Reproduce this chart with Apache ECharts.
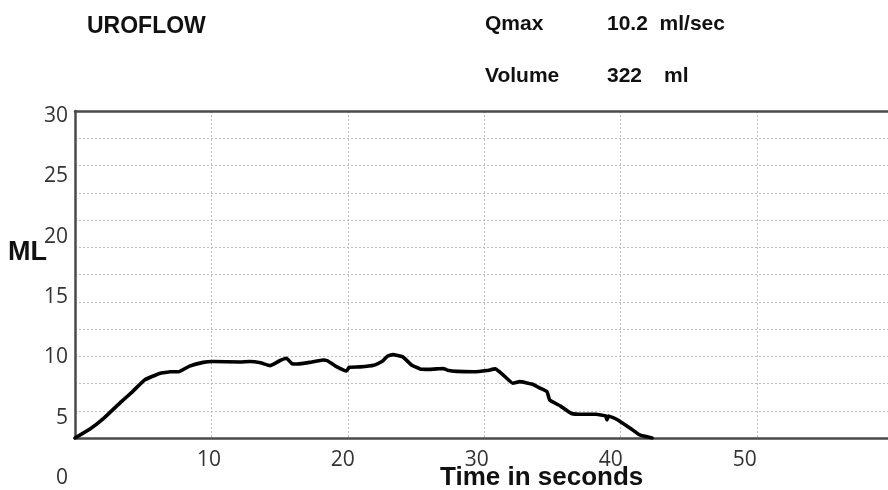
<!DOCTYPE html>
<html>
<head>
<meta charset="utf-8">
<script src="https://cdn.jsdelivr.net/npm/echarts@6/dist/echarts.min.js"></script>
<style>
  html, body { margin: 0; padding: 0; background: #fff; }
  #chart { width: 888px; height: 490px; }
</style>
</head>
<body>
<div id="chart"></div>
<script>
// Flow curve: time (s) and flow rate (ml/s)
const timeSec = [0, 1.1, 2.1, 3.4, 4.2, 5.1, 6.2, 7.0, 7.6, 8.4, 9.4, 10.1, 12.1, 12.8, 13.6, 14.3,
  15.0, 15.5, 15.9, 16.3, 17.2, 18.2, 18.5, 19.1, 19.9, 20.1, 20.9, 21.9, 22.5, 22.9, 23.3, 24.0,
  24.7, 25.3, 26.0, 27.0, 27.3, 28.0, 29.2, 30.2, 30.8, 31.4, 32.1, 32.6, 33.5, 34.1, 34.6, 34.8,
  35.6, 36.4, 37.3, 38.2, 38.9, 39.0, 39.1, 39.7, 40.7, 41.4, 42.3];
const flowRate = [0, 1.1, 2.4, 4.45, 5.65, 7.1, 7.9, 8.1, 8.1, 8.8, 9.25, 9.35, 9.3, 9.35, 9.2, 8.85,
  9.45, 9.75, 9.1, 9.05, 9.25, 9.55, 9.45, 8.8, 8.2, 8.65, 8.7, 8.9, 9.35, 10.0, 10.2, 9.95,
  8.9, 8.45, 8.4, 8.5, 8.3, 8.15, 8.1, 8.25, 8.45, 7.7, 6.7, 6.9, 6.6, 6.1, 5.67, 4.65,
  3.9, 3.0, 2.9, 2.9, 2.7, 2.2, 2.7, 2.3, 1.2, 0.37, 0];

// Axis tick labels
const xTickLabels = ['10', '20', '30', '40', '50'];
const yTickLabels = ['0', '5', '10', '15', '20', '25', '30'];

// Header summary
const titleText = 'UROFLOW';
const qmaxLabel = 'Qmax';
const qmaxValue = '10.2  ml/sec';
const volumeLabel = 'Volume';
const volumeValue = '322';
const volumeUnit = 'ml';
const yName = 'ML';
const xName = 'Time in seconds';

const chart = echarts.init(document.getElementById('chart'), null, { renderer: 'canvas' });

const labelFont = { fontFamily: 'Open Sans', fontSize: 21, color: '#333' };
const boldFont = 'Liberation Sans';
const axisLineStyle = { color: '#4a4a4a', width: 2.5 };
const gridLineStyle = { color: '#bdbdbd', width: 1, type: [2, 2] };

const option = {
  backgroundColor: '#fff',
  animation: false,
  grid: [
    { left: 75, right: 0, top: 111, bottom: 52 },
    { left: 75, width: 10, top: 116, bottom: 12 }
  ],
  xAxis: [
    { // data axis with vertical grid lines
      type: 'value', gridIndex: 0, position: 'bottom', min: 0, max: 59.6, interval: 10,
      axisLine: { show: true, lineStyle: axisLineStyle },
      axisTick: { show: false }, axisLabel: { show: false },
      splitLine: { show: true, lineStyle: gridLineStyle }
    },
    { // top border
      type: 'value', gridIndex: 0, position: 'top', min: 0, max: 59.6,
      axisLine: { show: true, lineStyle: axisLineStyle },
      axisTick: { show: false }, axisLabel: { show: false }, splitLine: { show: false }
    },
    { // time tick labels
      type: 'value', gridIndex: 0, position: 'bottom', min: 0, max: 60.7, interval: 10,
      axisLine: { show: false }, axisTick: { show: false }, splitLine: { show: false },
      axisLabel: Object.assign({
        margin: 12, showMinLabel: false, showMaxLabel: false,
        formatter: v => xTickLabels.includes(String(v)) ? String(v) : ''
      }, labelFont)
    },
    { type: 'value', gridIndex: 1, show: false }
  ],
  yAxis: [
    { // data axis with horizontal grid lines
      type: 'value', gridIndex: 0, min: 0, max: 40, interval: 10 / 3,
      axisLine: { show: true, lineStyle: axisLineStyle },
      axisTick: { show: false }, axisLabel: { show: false },
      splitLine: { show: true, lineStyle: gridLineStyle }
    },
    { // flow tick labels
      type: 'value', gridIndex: 1, min: 0, max: 30, interval: 5,
      axisLine: { show: false }, axisTick: { show: false }, splitLine: { show: false },
      axisLabel: Object.assign({
        margin: 7,
        formatter: v => yTickLabels.includes(String(v)) ? String(v) : ''
      }, labelFont)
    }
  ],
  series: [{
    type: 'line',
    xAxisIndex: 0, yAxisIndex: 0,
    data: timeSec.map((t, i) => [t, flowRate[i]]),
    showSymbol: false,
    smooth: 0.12,
    lineStyle: { color: '#000', width: 3.6, join: 'round', cap: 'round' },
    z: 5
  }],
  graphic: [
    { type: 'text', left: 87, top: 15, style: { text: titleText, font: `bold 23px "${boldFont}"`, fill: '#111' } },
    { type: 'text', left: 485, top: 14, style: { text: qmaxLabel, font: `bold 21px "${boldFont}"`, fill: '#111' } },
    { type: 'text', left: 607, top: 14, style: { text: qmaxValue, font: `bold 21px "${boldFont}"`, fill: '#111' } },
    { type: 'text', left: 485, top: 66, style: { text: volumeLabel, font: `bold 21px "${boldFont}"`, fill: '#111' } },
    { type: 'text', left: 607, top: 66, style: { text: volumeValue, font: `bold 21px "${boldFont}"`, fill: '#111' } },
    { type: 'text', left: 664, top: 66, style: { text: volumeUnit, font: `bold 21px "${boldFont}"`, fill: '#111' } },
    { type: 'text', left: 8, top: 239, style: { text: yName, font: `bold 27px "${boldFont}"`, fill: '#111' } },
    { type: 'text', left: 440, top: 465, style: { text: xName, font: `bold 26px "${boldFont}"`, fill: '#111' } }
  ]
};

chart.setOption(option);
</script>
</body>
</html>
